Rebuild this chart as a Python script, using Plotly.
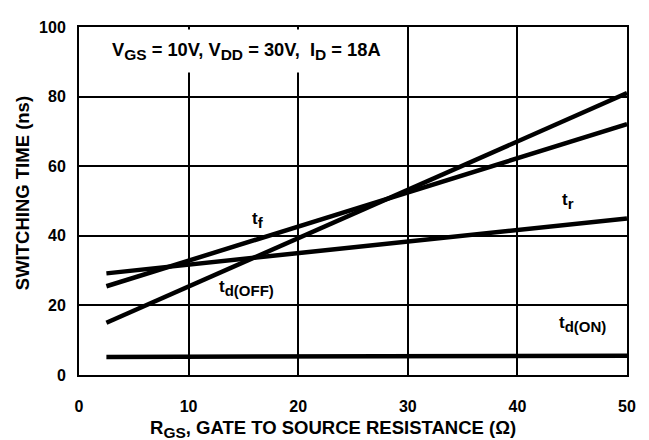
import plotly.graph_objects as go

# Data
rgs = [2.5, 50]
t_d_off = [15.0, 81.0]
t_f = [25.5, 72.1]
t_r = [29.2, 45.0]
t_d_on = [5.2, 5.5]

series = [("t_d(OFF)", t_d_off), ("t_f", t_f), ("t_r", t_r), ("t_d(ON)", t_d_on)]

x_ticks = [0, 10, 20, 30, 40, 50]
y_ticks = [0, 20, 40, 60, 80, 100]

FONT = "Liberation Sans, Arial, sans-serif"


def sub(s, size=15):
    return f"<sub><span style='font-size:{size}px'>{s}</span></sub>"


fig = go.Figure()
for name, ys in series:
    fig.add_trace(go.Scatter(x=rgs, y=ys, mode="lines", name=name,
                             line=dict(color="black", width=4.5), showlegend=False,
                             hoverinfo="skip"))

labels = [
    (16.3, 44.6, "<b>t" + sub("f") + "</b>"),
    (15.3, 25.0, "<b>t" + sub("d(OFF)") + "</b>"),
    (44.6, 50.0, "<b>t" + sub("r") + "</b>"),
    (45.9, 14.6, "<b>t" + sub("d(ON)") + "</b>"),
]
for x, y, t in labels:
    fig.add_annotation(x=x, y=y, text=t, showarrow=False,
                       font=dict(family=FONT, size=17, color="black"))

fig.add_annotation(x=15.3, y=93.0,
                   text="<b>V" + sub("GS", 15.5) + " = 10V, V" + sub("DD", 15.5) + " = 30V,  I" + sub("D", 15.5) + " = 18A</b>",
                   showarrow=False, bgcolor="white", borderpad=9,
                   font=dict(family=FONT, size=18.3, color="black"))

# Axis titles
fig.add_annotation(xref="paper", yref="paper", x=(333 - 79) / 548, y=(375 - 430) / 356,
                   xanchor="center", yanchor="middle",
                   text="<b>R" + sub("GS", 15.5) + ", GATE TO SOURCE RESISTANCE (Ω)</b>",
                   showarrow=False, font=dict(family=FONT, size=18.5, color="black"))
fig.add_annotation(xref="paper", yref="paper", x=(22 - 79) / 548, y=(375 - 189) / 356,
                   xanchor="center", yanchor="middle",
                   text="<b>SWITCHING TIME (ns)</b>", textangle=-90,
                   showarrow=False, font=dict(family=FONT, size=18.5, color="black"))

fig.update_xaxes(range=[0, 50], tickvals=x_ticks, ticktext=[f"<b>{v}</b>" for v in x_ticks],
                 showgrid=True, gridcolor="black", gridwidth=2,
                 showline=True, linecolor="black", linewidth=2, mirror=True,
                 zeroline=False, ticks="", ticklabelstandoff=16,
                 tickfont=dict(family=FONT, size=16, color="black"))
fig.update_yaxes(range=[0, 100], tickvals=y_ticks, ticktext=[f"<b>{v}</b>" for v in y_ticks],
                 showgrid=True, gridcolor="black", gridwidth=2,
                 showline=True, linecolor="black", linewidth=2, mirror=True,
                 zeroline=False, ticks="", ticklabelstandoff=8,
                 tickfont=dict(family=FONT, size=16, color="black"))

fig.update_layout(width=649, height=440, margin=dict(l=71, r=30, t=11, b=73),
                  plot_bgcolor="white", paper_bgcolor="white")

fig.write_html("out.html")
